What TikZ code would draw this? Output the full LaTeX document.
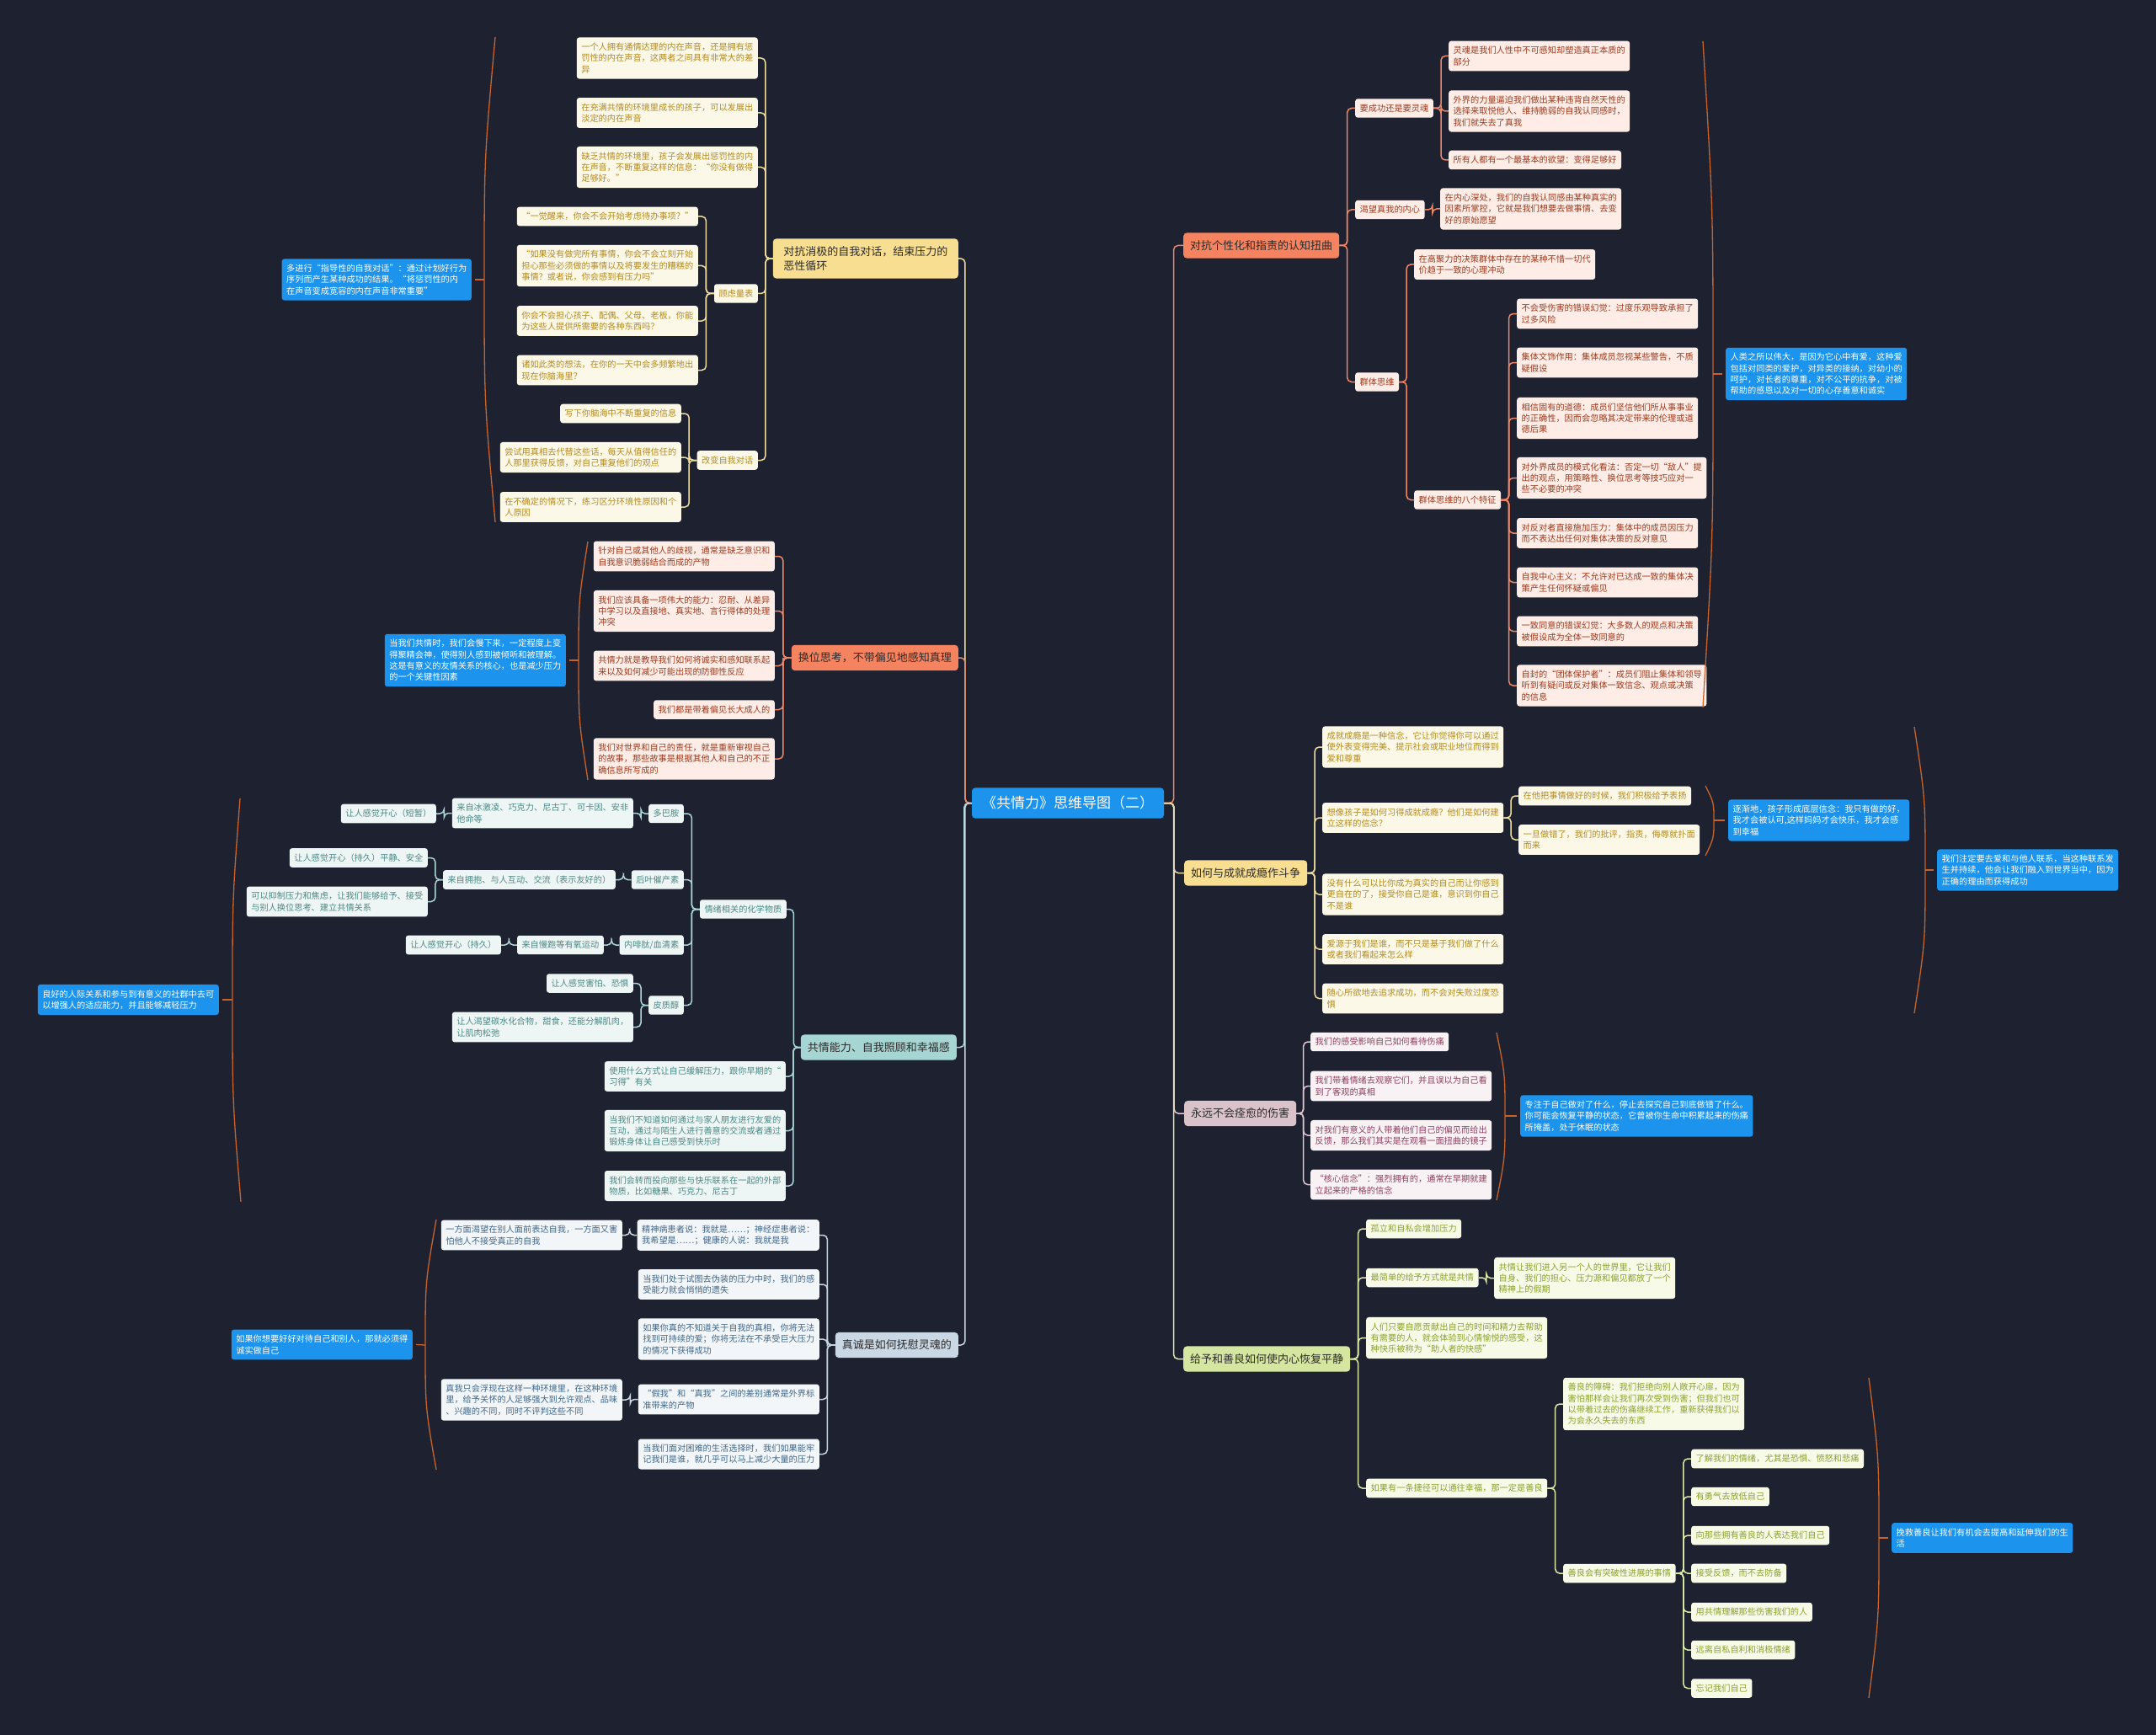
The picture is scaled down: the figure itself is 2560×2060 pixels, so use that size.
\documentclass[tikz,border=0pt]{standalone}
\usepackage{fontspec}
\setmainfont{Noto Sans CJK SC}
\usetikzlibrary{calc}
\definecolor{bgDark}{HTML}{1E2230}
\definecolor{blueNote}{HTML}{1C93EC}
\definecolor{braceCol}{HTML}{C8642A}
\definecolor{mainText}{HTML}{2B2B2B}
\definecolor{yMain}{HTML}{F8DE91}
\definecolor{yLeaf}{HTML}{FCF8E8}
\definecolor{yText}{HTML}{B28A1E}
\definecolor{yLine}{HTML}{EEDC9A}
\definecolor{cMain}{HTML}{F5835F}
\definecolor{cLeaf}{HTML}{FDEDE6}
\definecolor{cText}{HTML}{9C3A1F}
\definecolor{cLine}{HTML}{EE8766}
\definecolor{tMain}{HTML}{A6D6D3}
\definecolor{tLeaf}{HTML}{EEF6F5}
\definecolor{tText}{HTML}{4A8783}
\definecolor{tLine}{HTML}{ABD6D6}
\definecolor{sMain}{HTML}{CAD7E4}
\definecolor{sLeaf}{HTML}{F2F6F9}
\definecolor{sText}{HTML}{3F6688}
\definecolor{sLine}{HTML}{C8D5E1}
\definecolor{mMain}{HTML}{D9C2CA}
\definecolor{mLeaf}{HTML}{F9F2F4}
\definecolor{mText}{HTML}{8C3F5E}
\definecolor{mLine}{HTML}{DFC8D0}
\definecolor{gMain}{HTML}{D5E6A0}
\definecolor{gLeaf}{HTML}{F8FAE8}
\definecolor{gText}{HTML}{8AA12E}
\definecolor{gLine}{HTML}{DCE8A6}
\tikzset{
  leaf/.style={rectangle, rounded corners=3pt, align=left, inner xsep=5.5pt,
               inner ysep=6.5pt, font=\fontsize{10.2}{13.3}\selectfont},
  leafY/.style={leaf, fill=yLeaf, text=yText},
  leafC/.style={leaf, fill=cLeaf, text=cText},
  leafT/.style={leaf, fill=tLeaf, text=tText},
  leafS/.style={leaf, fill=sLeaf, text=sText},
  leafM/.style={leaf, fill=mLeaf, text=mText},
  leafG/.style={leaf, fill=gLeaf, text=gText},
  trunk/.style={rectangle, rounded corners=4pt, align=left, inner xsep=8pt,
                inner ysep=9pt, text=mainText, font=\fontsize{13}{17}\selectfont},
  trunkY/.style={trunk, fill=yMain},
  trunkC/.style={trunk, fill=cMain},
  trunkT/.style={trunk, fill=tMain},
  trunkS/.style={trunk, fill=sMain},
  trunkM/.style={trunk, fill=mMain},
  trunkG/.style={trunk, fill=gMain},
  rootB/.style={rectangle, rounded corners=4pt, fill=blueNote, text=white,
                inner xsep=12pt, inner ysep=10pt, font=\fontsize{17}{20}\selectfont},
  noteB/.style={rectangle, rounded corners=3pt, fill=blueNote, text=white, align=left,
                inner xsep=5.5pt, inner ysep=6.5pt, font=\fontsize{10.2}{13.3}\selectfont},
  lnY/.style={draw=yLine, line width=1.5pt, rounded corners=5pt},
  lnC/.style={draw=cLine, line width=1.5pt, rounded corners=5pt},
  lnT/.style={draw=tLine, line width=1.5pt, rounded corners=5pt},
  lnS/.style={draw=sLine, line width=1.5pt, rounded corners=5pt},
  lnM/.style={draw=mLine, line width=1.5pt, rounded corners=5pt},
  lnG/.style={draw=gLine, line width=1.5pt, rounded corners=5pt},
  brc/.style={draw=braceCol, line width=1.3pt},
}
% parent on the right, child on the left / parent on the left, child on the right
\newcommand{\linkL}[3]{\draw[#1] (#2.west) -| ($(#2.west)!.5!(#3.east)$) |- (#3.east);}
\newcommand{\linkR}[3]{\draw[#1] (#2.east) -| ($(#2.east)!.5!(#3.west)$) |- (#3.west);}

\begin{document}
\begin{tikzpicture}[x=1pt, y=-1pt]
\fill[bgDark] (0,0) rectangle (2560,2060);
\useasboundingbox (0,0) rectangle (2560,2060);

\node[rootB] (root) at (1268,953.5) {《共情力》思维导图（二）};

% ---- left: negative self talk
\node[trunkY, anchor=east, minimum width=220pt] (voice) at (1138,307) {对抗消极的自我对话，结束压力的\\恶性循环};
\node[leafY, anchor=east] (voice1) at (900,69) {一个人拥有通情达理的内在声音，还是拥有惩\\罚性的内在声音，这两者之间具有非常大的差\\异};
\node[leafY, anchor=east] (voice2) at (900,134) {在充满共情的环境里成长的孩子，可以发展出\\淡定的内在声音};
\node[leafY, anchor=east] (voice3) at (900,198.5) {缺乏共情的环境里，孩子会发展出惩罚性的内\\在声音，不断重复这样的信息：“你没有做得\\足够好。”};
\node[leafY, anchor=east] (worry) at (900,348.5) {顾虑量表};
\node[leafY, anchor=east] (worry1) at (829,257) {“一觉醒来，你会不会开始考虑待办事项？”};
\node[leafY, anchor=east] (worry2) at (829,315.5) {“如果没有做完所有事情，你会不会立刻开始\\担心那些必须做的事情以及将要发生的糟糕的\\事情？或者说，你会感到有压力吗”};
\node[leafY, anchor=east] (worry3) at (829,381) {你会不会担心孩子、配偶、父母、老板，你能\\为这些人提供所需要的各种东西吗？};
\node[leafY, anchor=east] (worry4) at (829,439.5) {诸如此类的想法，在你的一天中会多频繁地出\\现在你脑海里？};
\node[leafY, anchor=east] (change) at (900,546.5) {改变自我对话};
\node[leafY, anchor=east] (change1) at (809,491) {写下你脑海中不断重复的信息};
\node[leafY, anchor=east] (change2) at (809,543) {尝试用真相去代替这些话，每天从值得信任的\\人那里获得反馈，对自己重复他们的观点};
\node[leafY, anchor=east] (change3) at (809,602) {在不确定的情况下，练习区分环境性原因和个\\人原因};
\node[noteB, anchor=east] (note1) at (560,332) {多进行“指导性的自我对话”：通过计划好行为\\序列而产生某种成功的结果。“将惩罚性的内\\在声音变成宽容的内在声音非常重要”};

% ---- left: perspective
\node[trunkC, anchor=east] (persp) at (1138,781) {换位思考，不带偏见地感知真理};
\node[leafC, anchor=east] (persp1) at (920,660.5) {针对自己或其他人的歧视，通常是缺乏意识和\\自我意识脆弱结合而成的产物};
\node[leafC, anchor=east] (persp2) at (920,725.5) {我们应该具备一项伟大的能力：忍耐、从差异\\中学习以及直接地、真实地、言行得体的处理\\冲突};
\node[leafC, anchor=east] (persp3) at (920,790.5) {共情力就是教导我们如何将诚实和感知联系起\\来以及如何减少可能出现的防御性反应};
\node[leafC, anchor=east] (persp4) at (920,842.5) {我们都是带着偏见长大成人的};
\node[leafC, anchor=east] (persp5) at (920,901) {我们对世界和自己的责任，就是重新审视自己\\的故事，那些故事是根据其他人和自己的不正\\确信息所写成的};
\node[noteB, anchor=east] (note2) at (672,784) {当我们共情时，我们会慢下来，一定程度上变\\得聚精会神，使得别人感到被倾听和被理解。\\这是有意义的友情关系的核心，也是减少压力\\的一个关键性因素};

% ---- left: chemistry
\node[trunkT, anchor=east] (chem) at (1136,1243.5) {共情能力、自我照顾和幸福感};
\node[leafT, anchor=east] (mood) at (934,1079.5) {情绪相关的化学物质};
\node[leafT, anchor=east] (dopa) at (812,966) {多巴胺};
\node[leafT, anchor=east] (dopa1) at (752,965.5) {来自冰激凌、巧克力、尼古丁、可卡因、安非\\他命等};
\node[leafT, anchor=east] (dopa2) at (518,966) {让人感觉开心（短暂）};
\node[leafT, anchor=east] (oxy) at (812,1044.5) {后叶催产素};
\node[leafT, anchor=east] (oxy1) at (731,1044.5) {来自拥抱、与人互动、交流（表示友好的）};
\node[leafT, anchor=east] (oxy2) at (508,1018.5) {让人感觉开心（持久）平静、安全};
\node[leafT, anchor=east] (oxy3) at (508,1070.5) {可以抑制压力和焦虑，让我们能够给予、接受\\与别人换位思考、建立共情关系};
\node[leafT, anchor=east] (endo) at (812,1122) {内啡肽/血清素};
\node[leafT, anchor=east] (endo1) at (717,1122) {来自慢跑等有氧运动};
\node[leafT, anchor=east] (endo2) at (595,1122) {让人感觉开心（持久）};
\node[leafT, anchor=east] (cort) at (812,1193.5) {皮质醇};
\node[leafT, anchor=east] (cort1) at (752,1167.5) {让人感觉害怕、恐惧};
\node[leafT, anchor=east] (cort2) at (752,1219.5) {让人渴望碳水化合物，甜食，还能分解肌肉，\\让肌肉松弛};
\node[leafT, anchor=east] (chem1) at (933,1278) {使用什么方式让自己缓解压力，跟你早期的“\\习得”有关};
\node[leafT, anchor=east] (chem2) at (933,1342.5) {当我们不知道如何通过与家人朋友进行友爱的\\互动，通过与陌生人进行善意的交流或者通过\\锻炼身体让自己感受到快乐时};
\node[leafT, anchor=east] (chem3) at (933,1408) {我们会转而投向那些与快乐联系在一起的外部\\物质，比如糖果、巧克力、尼古丁};
\node[noteB, anchor=east] (note3) at (260,1187) {良好的人际关系和参与到有意义的社群中去可\\以增强人的适应能力，并且能够减轻压力};

% ---- left: honesty
\node[trunkS, anchor=east] (honest) at (1138,1597) {真诚是如何抚慰灵魂的};
\node[leafS, anchor=east] (hon1) at (973,1466.5) {精神病患者说：我就是……；神经症患者说：\\我希望是……；健康的人说：我就是我};
\node[leafS, anchor=east] (hon1a) at (739,1466.5) {一方面渴望在别人面前表达自我，一方面又害\\怕他人不接受真正的自我};
\node[leafS, anchor=east] (hon2) at (973,1525) {当我们处于试图去伪装的压力中时，我们的感\\受能力就会悄悄的遗失};
\node[leafS, anchor=east] (hon3) at (973,1590) {如果你真的不知道关于自我的真相，你将无法\\找到可持续的爱；你将无法在不承受巨大压力\\的情况下获得成功};
\node[leafS, anchor=east] (hon4) at (973,1661.5) {“假我”和“真我”之间的差别通常是外界标\\准带来的产物};
\node[leafS, anchor=east] (hon4a) at (739,1662) {真我只会浮现在这样一种环境里，在这种环境\\里，给予关怀的人足够强大到允许观点、品味\\、兴趣的不同，同时不评判这些不同};
\node[leafS, anchor=east] (hon5) at (973,1726.5) {当我们面对困难的生活选择时，我们如果能牢\\记我们是谁，就几乎可以马上减少大量的压力};
\node[noteB, anchor=east] (note4) at (490,1596.5) {如果你想要好好对待自己和别人，那就必须得\\诚实做自己};

% ---- right: distortion
\node[trunkC, anchor=west] (distort) at (1405,291.5) {对抗个性化和指责的认知扭曲};
\node[leafC, anchor=west] (soul) at (1609,128.5) {要成功还是要灵魂};
\node[leafC, anchor=west] (soul1) at (1720,66.5) {灵魂是我们人性中不可感知却塑造真正本质的\\部分};
\node[leafC, anchor=west] (soul2) at (1720,132) {外界的力量逼迫我们做出某种违背自然天性的\\选择来取悦他人、维持脆弱的自我认同感时，\\我们就失去了真我};
\node[leafC, anchor=west] (soul3) at (1720,190) {所有人都有一个最基本的欲望：变得足够好};
\node[leafC, anchor=west] (self) at (1609,249) {渴望真我的内心};
\node[leafC, anchor=west] (self1) at (1710,248) {在内心深处，我们的自我认同感由某种真实的\\因素所掌控，它就是我们想要去做事情、去变\\好的原始愿望};
\node[leafC, anchor=west] (group) at (1609,453.5) {群体思维};
\node[leafC, anchor=west] (group1) at (1679,314) {在高聚力的决策群体中存在的某种不惜一切代\\价趋于一致的心理冲动};
\node[leafC, anchor=west] (eight) at (1679,593.5) {群体思维的八个特征};
\node[leafC, anchor=west] (eight1) at (1801,372.5) {不会受伤害的错误幻觉：过度乐观导致承担了\\过多风险};
\node[leafC, anchor=west] (eight2) at (1801,430.5) {集体文饰作用：集体成员忽视某些警告，不质\\疑假设};
\node[leafC, anchor=west] (eight3) at (1801,496.5) {相信固有的道德：成员们坚信他们所从事事业\\的正确性，因而会忽略其决定带来的伦理或道\\德后果};
\node[leafC, anchor=west] (eight4) at (1801,567.5) {对外界成员的模式化看法：否定一切“敌人”提\\出的观点，用策略性、换位思考等技巧应对一\\些不必要的冲突};
\node[leafC, anchor=west] (eight5) at (1801,633) {对反对者直接施加压力：集体中的成员因压力\\而不表达出任何对集体决策的反对意见};
\node[leafC, anchor=west] (eight6) at (1801,691.5) {自我中心主义：不允许对已达成一致的集体决\\策产生任何怀疑或偏见};
\node[leafC, anchor=west] (eight7) at (1801,749.5) {一致同意的错误幻觉：大多数人的观点和决策\\被假设成为全体一致同意的};
\node[leafC, anchor=west] (eight8) at (1801,814) {自封的“团体保护者”：成员们阻止集体和领导\\听到有疑问或反对集体一致信念、观点或决策\\的信息};
\node[noteB, anchor=west] (note5) at (2049,444) {人类之所以伟大，是因为它心中有爱，这种爱\\包括对同类的爱护，对异类的接纳，对幼小的\\呵护，对长者的尊重，对不公平的抗争，对被\\帮助的感恩以及对一切的心存善意和诚实};

% ---- right: achievement
\node[trunkY, anchor=west] (achv) at (1406,1036.5) {如何与成就成瘾作斗争};
\node[leafY, anchor=west] (achv1) at (1570,887) {成就成瘾是一种信念，它让你觉得你可以通过\\使外表变得完美、提示社会或职业地位而得到\\爱和尊重};
\node[leafY, anchor=west] (achv2) at (1570,971) {想像孩子是如何习得成就成瘾？他们是如何建\\立这样的信念？};
\node[leafY, anchor=west] (kid1) at (1803,945) {在他把事情做好的时候，我们积极给予表扬};
\node[leafY, anchor=west] (kid2) at (1803,997) {一旦做错了，我们的批评，指责，侮辱就扑面\\而来};
\node[leafY, anchor=west] (achv3) at (1570,1062) {没有什么可以比你成为真实的自己而让你感到\\更自在的了，接受你自己是谁，意识到你自己\\不是谁};
\node[leafY, anchor=west] (achv4) at (1570,1127) {爱源于我们是谁，而不只是基于我们做了什么\\或者我们看起来怎么样};
\node[leafY, anchor=west] (achv5) at (1570,1185.5) {随心所欲地去追求成功，而不会对失败过度恐\\惧};
\node[noteB, anchor=west] (note6) at (2052,974) {逐渐地，孩子形成底层信念：我只有做的好，\\我才会被认可,这样妈妈才会快乐，我才会感\\到幸福};
\node[noteB, anchor=west] (note7) at (2300,1033) {我们注定要去爱和与他人联系，当这种联系发\\生并持续，他会让我们融入到世界当中，因为\\正确的理由而获得成功};

% ---- right: hurt
\node[trunkM, anchor=west] (hurt) at (1406,1322) {永远不会痊愈的伤害};
\node[leafM, anchor=west] (hurt1) at (1556,1237) {我们的感受影响自己如何看待伤痛};
\node[leafM, anchor=west] (hurt2) at (1556,1289.5) {我们带着情绪去观察它们，并且误以为自己看\\到了客观的真相};
\node[leafM, anchor=west] (hurt3) at (1556,1348) {对我们有意义的人带着他们自己的偏见而给出\\反馈，那么我们其实是在观看一面扭曲的镜子};
\node[leafM, anchor=west] (hurt4) at (1556,1406.5) {“核心信念”：强烈拥有的，通常在早期就建\\立起来的严格的信念};
\node[noteB, anchor=west] (note8) at (1805,1325) {专注于自己做对了什么，停止去探究自己到底做错了什么。\\你可能会恢复平静的状态，它曾被你生命中积累起来的伤痛\\所掩盖，处于休眠的状态};

% ---- right: kindness
\node[trunkG, anchor=west] (kind) at (1405,1613.5) {给予和善良如何使内心恢复平静};
\node[leafG, anchor=west] (kind1) at (1622,1459) {孤立和自私会增加压力};
\node[leafG, anchor=west] (kind2) at (1622,1517) {最简单的给予方式就是共情};
\node[leafG, anchor=west] (kind2a) at (1774,1517.5) {共情让我们进入另一个人的世界里，它让我们\\自身、我们的担心、压力源和偏见都放了一个\\精神上的假期};
\node[leafG, anchor=west] (kind3) at (1622,1588.5) {人们只要自愿贡献出自己的时间和精力去帮助\\有需要的人，就会体验到心情愉悦的感受，这\\种快乐被称为“助人者的快感”};
\node[leafG, anchor=west] (kind4) at (1622,1767) {如果有一条捷径可以通往幸福，那一定是善良};
\node[leafG, anchor=west] (block) at (1856,1667) {善良的障碍：我们拒绝向别人敞开心扉，因为\\害怕那样会让我们再次受到伤害；但我们也可\\以带着过去的伤痛继续工作，重新获得我们以\\为会永久失去的东西};
\node[leafG, anchor=west] (brk) at (1856,1868) {善良会有突破性进展的事情};
\node[leafG, anchor=west] (brk1) at (2008,1732) {了解我们的情绪，尤其是恐惧、愤怒和悲痛};
\node[leafG, anchor=west] (brk2) at (2008,1777) {有勇气去放低自己};
\node[leafG, anchor=west] (brk3) at (2008,1823) {向那些拥有善良的人表达我们自己};
\node[leafG, anchor=west] (brk4) at (2008,1868) {接受反馈，而不去防备};
\node[leafG, anchor=west] (brk5) at (2008,1914) {用共情理解那些伤害我们的人};
\node[leafG, anchor=west] (brk6) at (2008,1959) {远离自私自利和消极情绪};
\node[leafG, anchor=west] (brk7) at (2008,2004.5) {忘记我们自己};
\node[noteB, anchor=west] (note9) at (2246,1826) {挽救善良让我们有机会去提高和延伸我们的生\\活};

% connectors
\linkL{lnY}{root}{voice}
\linkL{lnC}{root}{persp}
\linkL{lnT}{root}{chem}
\linkL{lnS}{root}{honest}
\linkR{lnC}{root}{distort}
\linkR{lnY}{root}{achv}
\linkR{lnM}{root}{hurt}
\linkR{lnG}{root}{kind}
\foreach \c in {voice1,voice2,voice3,worry,change} {\linkL{lnY}{voice}{\c}}
\foreach \c in {worry1,worry2,worry3,worry4} {\linkL{lnY}{worry}{\c}}
\foreach \c in {change1,change2,change3} {\linkL{lnY}{change}{\c}}
\foreach \c in {persp1,persp2,persp3,persp4,persp5} {\linkL{lnC}{persp}{\c}}
\foreach \c in {mood,chem1,chem2,chem3} {\linkL{lnT}{chem}{\c}}
\foreach \c in {dopa,oxy,endo,cort} {\linkL{lnT}{mood}{\c}}
\linkL{lnT}{dopa}{dopa1}
\linkL{lnT}{dopa1}{dopa2}
\linkL{lnT}{oxy}{oxy1}
\linkL{lnT}{oxy1}{oxy2}
\linkL{lnT}{oxy1}{oxy3}
\linkL{lnT}{endo}{endo1}
\linkL{lnT}{endo1}{endo2}
\linkL{lnT}{cort}{cort1}
\linkL{lnT}{cort}{cort2}
\foreach \c in {hon1,hon2,hon3,hon4,hon5} {\linkL{lnS}{honest}{\c}}
\linkL{lnS}{hon1}{hon1a}
\linkL{lnS}{hon4}{hon4a}
\foreach \c in {soul,self,group} {\linkR{lnC}{distort}{\c}}
\foreach \c in {soul1,soul2,soul3} {\linkR{lnC}{soul}{\c}}
\linkR{lnC}{self}{self1}
\linkR{lnC}{group}{group1}
\linkR{lnC}{group}{eight}
\foreach \c in {eight1,eight2,eight3,eight4,eight5,eight6,eight7,eight8} {\linkR{lnC}{eight}{\c}}
\foreach \c in {achv1,achv2,achv3,achv4,achv5} {\linkR{lnY}{achv}{\c}}
\linkR{lnY}{achv2}{kid1}
\linkR{lnY}{achv2}{kid2}
\foreach \c in {hurt1,hurt2,hurt3,hurt4} {\linkR{lnM}{hurt}{\c}}
\foreach \c in {kind1,kind2,kind3,kind4} {\linkR{lnG}{kind}{\c}}
\linkR{lnG}{kind2}{kind2a}
\linkR{lnG}{kind4}{block}
\linkR{lnG}{kind4}{brk}
\foreach \c in {brk1,brk2,brk3,brk4,brk5,brk6,brk7} {\linkR{lnG}{brk}{\c}}

% summary brackets
\coordinate (b1t) at (588,44);   \coordinate (b1m) at (575,332);  \coordinate (b1b) at (588,620);
\coordinate (b2t) at (698,643);  \coordinate (b2m) at (687,784);  \coordinate (b2b) at (698,926);
\coordinate (b3t) at (285,948);  \coordinate (b3m) at (276,1187); \coordinate (b3b) at (286,1427);
\coordinate (b4t) at (518,1448); \coordinate (b4m) at (505,1597); \coordinate (b4b) at (518,1745);
\draw[brc] (b1t) .. controls (575,188) .. (b1m) .. controls (575,476) .. (b1b);
\draw[brc] (b2t) .. controls (687,713) .. (b2m) .. controls (687,855) .. (b2b);
\draw[brc] (b3t) .. controls (276,1067) .. (b3m) .. controls (276,1307) .. (b3b);
\draw[brc] (b4t) .. controls (505,1522) .. (b4m) .. controls (505,1671) .. (b4b);
\draw[brc] (b1m) -- ([xshift=4pt]note1.east);
\draw[brc] (b2m) -- ([xshift=4pt]note2.east);
\draw[brc] (b3m) -- ([xshift=4pt]note3.east);
\draw[brc] (b4m) -- ([xshift=4pt]note4.east);

\coordinate (b5t) at (2022,49);   \coordinate (b5m) at (2034,444);  \coordinate (b5b) at (2022,840);
\coordinate (b6t) at (2025,933);  \coordinate (b6m) at (2035,974);  \coordinate (b6b) at (2025,1016);
\coordinate (b7t) at (2273,863);  \coordinate (b7m) at (2286,1033); \coordinate (b7b) at (2273,1203);
\coordinate (b8t) at (1777,1226); \coordinate (b8m) at (1787,1325); \coordinate (b8b) at (1777,1425);
\coordinate (b9t) at (2219,1636); \coordinate (b9m) at (2231,1826); \coordinate (b9b) at (2219,2016);
\draw[brc] (b5t) .. controls (2034,246) .. (b5m) .. controls (2034,642) .. (b5b);
\draw[brc] (b6t) .. controls (2035,953) .. (b6m) .. controls (2035,995) .. (b6b);
\draw[brc] (b7t) .. controls (2286,948) .. (b7m) .. controls (2286,1118) .. (b7b);
\draw[brc] (b8t) .. controls (1787,1275) .. (b8m) .. controls (1787,1375) .. (b8b);
\draw[brc] (b9t) .. controls (2231,1731) .. (b9m) .. controls (2231,1921) .. (b9b);
\draw[brc] (b5m) -- ([xshift=-4pt]note5.west);
\draw[brc] (b6m) -- ([xshift=-4pt]note6.west);
\draw[brc] (b7m) -- ([xshift=-4pt]note7.west);
\draw[brc] (b8m) -- ([xshift=-4pt]note8.west);
\draw[brc] (b9m) -- ([xshift=-4pt]note9.west);
\end{tikzpicture}
\end{document}
